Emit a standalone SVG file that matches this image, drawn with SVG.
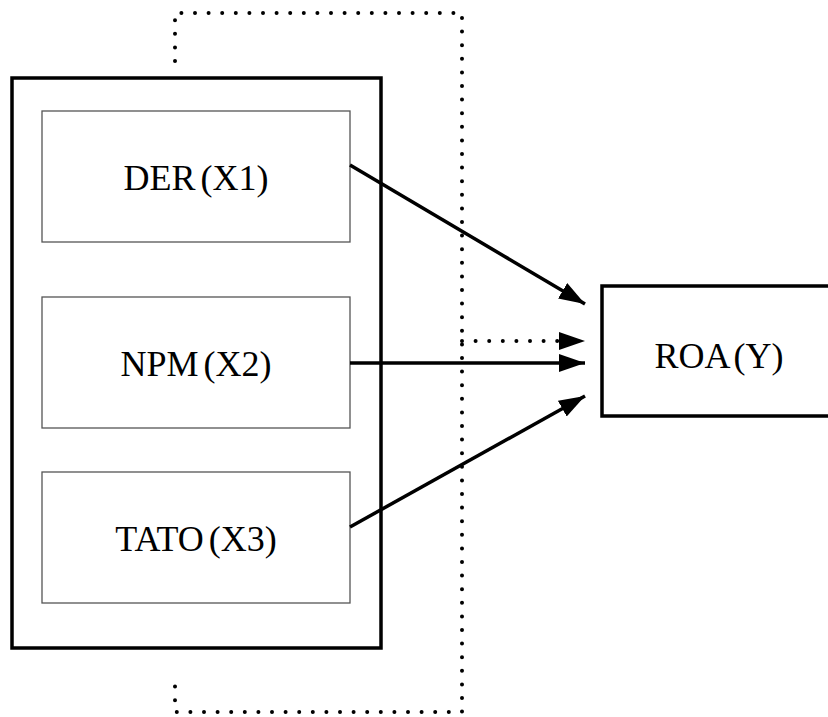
<svg xmlns="http://www.w3.org/2000/svg" width="828" height="717" viewBox="0 0 828 717">
<style>
.outer{fill:none;stroke:#000;stroke-width:3.5}
.inner{fill:#fff;stroke:#555;stroke-width:1.3}
.lbl{font-family:"Liberation Serif","Times New Roman",serif;font-size:36px;word-spacing:-4px;fill:#000;text-anchor:middle}
.arrow{fill:none;stroke:#000;stroke-width:3.5}
.dot{fill:none;stroke:#000;stroke-width:4;stroke-linecap:round;stroke-dasharray:0 13.6}
</style>
<defs>
<marker id="ah" markerUnits="userSpaceOnUse" markerWidth="27" markerHeight="19" refX="26" refY="9" orient="auto" viewBox="0 0 27 19">
<path d="M0,0 L26,9 L0,18 z" fill="#000"/>
</marker>
</defs>
<rect width="828" height="717" fill="#fff"/>
<g id="group-box"><rect class="outer" x="12" y="78" width="369" height="570"/></g>
<g id="der"><rect class="inner" x="42" y="111" width="308" height="131"/><text class="lbl" x="196" y="190">DER (X1)</text></g>
<g id="npm"><rect class="inner" x="42" y="297" width="308" height="131"/><text class="lbl" x="196" y="376">NPM (X2)</text></g>
<g id="tato"><rect class="inner" x="42" y="472" width="308" height="131"/><text class="lbl" x="196" y="551">TATO (X3)</text></g>
<g id="roa"><rect class="outer" x="602" y="286" width="240" height="130"/><text class="lbl" x="719" y="368">ROA (Y)</text></g>
<g id="connectors">
<path class="dot" d="M175,61 V13 H462 V712 H175 V682"/>
<path class="dot" d="M462,341 H560"/>
<path d="M560,341 H585" stroke="none" marker-end="url(#ah)"/>
<line class="arrow" x1="350" y1="165" x2="585" y2="304" marker-end="url(#ah)"/>
<line class="arrow" x1="350" y1="363" x2="585" y2="363" marker-end="url(#ah)"/>
<line class="arrow" x1="350" y1="527" x2="585" y2="396" marker-end="url(#ah)"/>
</g>
</svg>
